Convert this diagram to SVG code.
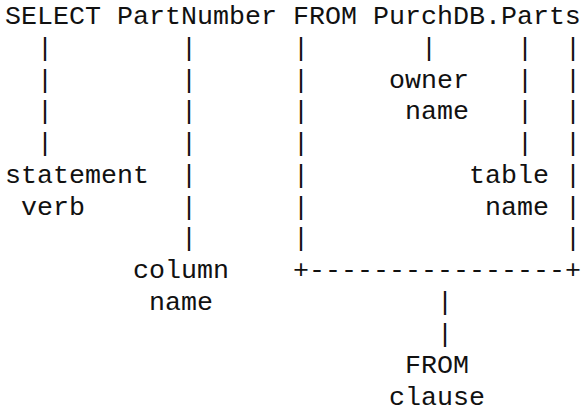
<svg xmlns="http://www.w3.org/2000/svg" width="584" height="410" viewBox="0 0 584 410">
<style>
text{font-family:"Courier New","Liberation Mono",monospace;font-size:26.67px;fill:#111;white-space:pre}
</style>
<rect width="584" height="410" fill="#fff"/>
<g id="statement">
<text x="5" y="24" xml:space="preserve">SELECT PartNumber FROM PurchDB.Parts</text>
</g>
<g id="connectors">
<text x="37" y="56">|</text><text x="181" y="56">|</text><text x="293" y="56">|</text><text x="421" y="56">|</text><text x="517" y="56">|</text><text x="565" y="56">|</text>
<text x="37" y="87.5">|</text><text x="181" y="87.5">|</text><text x="293" y="87.5">|</text><text x="517" y="87.5">|</text><text x="565" y="87.5">|</text>
<text x="37" y="119">|</text><text x="181" y="119">|</text><text x="293" y="119">|</text><text x="517" y="119">|</text><text x="565" y="119">|</text>
<text x="37" y="151">|</text><text x="181" y="151">|</text><text x="293" y="151">|</text><text x="517" y="151">|</text><text x="565" y="151">|</text>
<text x="181" y="183">|</text><text x="293" y="183">|</text><text x="565" y="183">|</text>
<text x="181" y="214.5">|</text><text x="293" y="214.5">|</text><text x="565" y="214.5">|</text>
<text x="181" y="246">|</text><text x="293" y="246">|</text><text x="565" y="246">|</text>
<text x="293" y="278">+----------------+</text>
<text x="437" y="310">|</text>
<text x="437" y="341.5">|</text>
</g>
<g id="owner-name">
<text x="389" y="87.5">owner</text>
<text x="405" y="119">name</text>
</g>
<g id="statement-verb">
<text x="5" y="183">statement</text>
<text x="21" y="214.5">verb</text>
</g>
<g id="table-name">
<text x="469" y="183">table</text>
<text x="485" y="214.5">name</text>
</g>
<g id="column-name">
<text x="133" y="278">column</text>
<text x="149" y="310">name</text>
</g>
<g id="from-clause">
<text x="405" y="373">FROM</text>
<text x="389" y="405">clause</text>
</g>
</svg>
